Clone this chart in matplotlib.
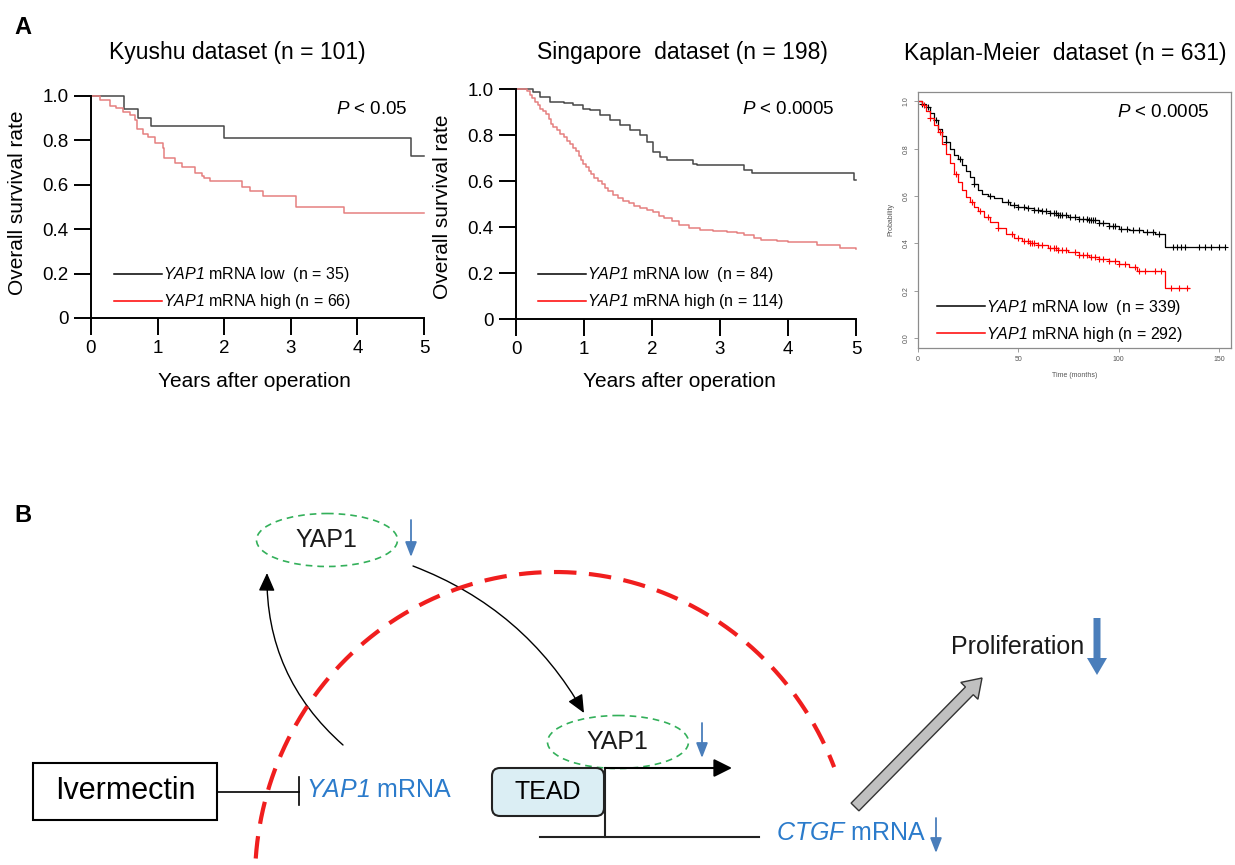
import numpy as np
import matplotlib
matplotlib.use('Agg')
import matplotlib.pyplot as plt
from matplotlib.patches import Ellipse, Rectangle, FancyBboxPatch, FancyArrowPatch, FancyArrow
from matplotlib.lines import Line2D

plt.rcParams['font.family'] = ['Liberation Sans', 'DejaVu Sans']
plt.rcParams['mathtext.fontset'] = 'custom'
plt.rcParams['mathtext.rm'] = 'Liberation Sans'
plt.rcParams['mathtext.it'] = 'Liberation Sans:italic'
# italic digits too (mathtext keeps digits upright in \it)
plt.rcParams['mathtext.sf'] = 'Liberation Sans:italic'

# ---- survival data (time, survival after step) ----
# Kyushu dataset, years
kyu_low_t = [0, 0.5, 0.7, 0.9, 2.0, 4.8, 5.0]
kyu_low_s = [1.0, 0.94, 0.90, 0.865, 0.81, 0.73, 0.73]
kyu_high_t = [0, 0.13, 0.28, 0.38, 0.48, 0.58, 0.66, 0.69, 0.78, 0.86, 0.96, 1.08, 1.10,
              1.26, 1.36, 1.56, 1.66, 1.69, 1.78, 2.26, 2.38, 2.58, 3.08, 3.80, 5.0]
kyu_high_s = [1.0, 0.98, 0.955, 0.945, 0.93, 0.915, 0.89, 0.85, 0.83, 0.815, 0.79, 0.765, 0.72,
              0.70, 0.68, 0.655, 0.64, 0.63, 0.615, 0.59, 0.57, 0.55, 0.50, 0.475, 0.475]

# Singapore dataset, years
sin_low_t = [0, 0.25, 0.35, 0.5, 0.7, 0.84, 0.99, 1.09, 1.24, 1.38, 1.53, 1.68, 1.82, 1.92,
             2.02, 2.12, 2.22, 2.61, 2.66, 3.35, 3.47, 4.97, 5.0]
sin_low_s = [1.0, 0.987, 0.965, 0.945, 0.94, 0.93, 0.915, 0.907, 0.886, 0.867, 0.842, 0.82, 0.80,
             0.77, 0.727, 0.705, 0.69, 0.676, 0.669, 0.647, 0.633, 0.605, 0.605]
sin_high_t = [0, 0.16, 0.20, 0.23, 0.28, 0.32, 0.36, 0.40, 0.44, 0.48, 0.52, 0.55, 0.60, 0.65,
              0.70, 0.75, 0.80, 0.84, 0.88, 0.92, 0.96, 0.99, 1.03, 1.07, 1.10, 1.15, 1.20,
              1.26, 1.31, 1.36, 1.42, 1.50, 1.58, 1.66, 1.74, 1.82, 1.92, 2.02, 2.10, 2.18,
              2.30, 2.40, 2.55, 2.70, 2.90, 3.10, 3.25, 3.35, 3.50, 3.60, 3.84, 4.00, 4.43,
              4.77, 5.0]
sin_high_s = [1.0, 0.99, 0.975, 0.96, 0.945, 0.93, 0.915, 0.905, 0.89, 0.87, 0.85, 0.835, 0.82,
              0.805, 0.79, 0.775, 0.76, 0.745, 0.73, 0.71, 0.69, 0.675, 0.66, 0.645, 0.63,
              0.615, 0.60, 0.585, 0.57, 0.555, 0.54, 0.527, 0.515, 0.503, 0.492, 0.481,
              0.472, 0.465, 0.45, 0.437, 0.425, 0.41, 0.397, 0.387, 0.383, 0.378, 0.372,
              0.365, 0.352, 0.345, 0.337, 0.333, 0.322, 0.308, 0.305]

# Kaplan-Meier plotter dataset, months
kmp_low_t = [0, 2, 4, 6, 8, 10, 12, 14, 16, 18, 20, 22, 24, 26, 28, 30, 32, 35, 38, 42, 46, 50,
             54, 58, 62, 66, 70, 75, 80, 85, 90, 95, 100, 105, 112, 118, 123, 153]
kmp_low_s = [1.0, 0.99, 0.975, 0.95, 0.92, 0.885, 0.855, 0.83, 0.80, 0.775, 0.755, 0.73, 0.705,
             0.68, 0.65, 0.625, 0.61, 0.60, 0.59, 0.575, 0.562, 0.555, 0.548, 0.542, 0.535,
             0.528, 0.52, 0.512, 0.505, 0.498, 0.488, 0.475, 0.462, 0.456, 0.449, 0.44, 0.386,
             0.386]
kmp_high_t = [0, 2, 4, 6, 8, 10, 12, 14, 16, 18, 20, 22, 24, 26, 28, 30, 33, 36, 40, 44, 48, 52,
              56, 60, 65, 70, 75, 80, 85, 90, 95, 100, 105, 109, 123, 135]
kmp_high_s = [1.0, 0.985, 0.96, 0.93, 0.90, 0.87, 0.82, 0.78, 0.74, 0.695, 0.66, 0.625, 0.595,
              0.575, 0.555, 0.535, 0.51, 0.49, 0.465, 0.44, 0.425, 0.41, 0.40, 0.392, 0.382,
              0.373, 0.362, 0.35, 0.342, 0.335, 0.325, 0.315, 0.30, 0.282, 0.21, 0.21]
kmp_low_cens = [2, 5, 9, 14, 21, 28, 36, 45, 48, 50, 53, 55, 58, 60, 62, 64, 66, 68, 69, 70, 71,
                72, 74, 76, 78, 80, 82, 84, 85, 86, 87, 88, 90, 92, 95, 97, 98, 101, 104, 107,
                110, 114, 117, 120, 127, 129, 131, 133, 140, 143, 146, 150, 153]
kmp_high_cens = [3, 6, 11, 19, 27, 31, 35, 40, 47, 50, 53, 55, 56, 57, 58, 60, 62, 66, 68, 69,
                 70, 72, 74, 78, 80, 82, 84, 86, 88, 90, 92, 95, 98, 100, 103, 108, 110, 113,
                 118, 121, 126, 130, 134]

W, H = 1235, 865
fig = plt.figure(figsize=(W / 100, H / 100), dpi=100)

YAP1 = r'$\mathsf{YAP1}$'


def px_axes(l, t, r, b):
    return fig.add_axes([l / W, 1 - b / H, (r - l) / W, (b - t) / H])


# ---------------- diagram (panel B), pixel coordinates ----------------
ax_d = fig.add_axes([0, 0, 1, 1])
ax_d.set_xlim(0, W)
ax_d.set_ylim(H, 0)
ax_d.axis('off')

blue_txt = '#2b7bcb'
blue_arr = '#4a7ebb'
green = '#33b05a'

ax_d.text(23, 27, 'A', fontsize=17, fontweight='bold', ha='center', va='center')
ax_d.text(23, 516, 'B', fontsize=17, fontweight='bold', ha='center', va='center')

# YAP1 ellipses
for cx, cy in [(327, 540), (618, 742)]:
    ax_d.add_patch(Ellipse((cx, cy), 141, 53, fill=False, ec=green, lw=1.2,
                           ls=(0, (4, 3))))
    ax_d.text(cx - 1, cy, 'YAP1', fontsize=18, ha='center', va='center', color='#1a1a1a')

# small blue down arrows
for x, y0, y1 in [(411, 520, 557), (702, 723, 758), (936, 818, 853)]:
    ax_d.annotate('', xy=(x, y1), xytext=(x, y0),
                  arrowprops=dict(arrowstyle='-|>,head_length=0.9,head_width=0.35',
                                  color=blue_arr, lw=1.3, mutation_scale=10,
                                  shrinkA=0, shrinkB=0))

# curved black arrows
ax_d.add_patch(FancyArrowPatch((343, 745), (267, 573), connectionstyle='arc3,rad=-0.23',
                               arrowstyle='-|>,head_length=1.0,head_width=0.45',
                               mutation_scale=11, lw=1, color='k', shrinkA=0, shrinkB=0))
ax_d.add_patch(FancyArrowPatch((413, 566), (584, 713), connectionstyle='arc3,rad=-0.18',
                               arrowstyle='-|>,head_length=1.0,head_width=0.45',
                               mutation_scale=11, lw=1, color='k', shrinkA=0, shrinkB=0))

# Ivermectin box and inhibition
ax_d.add_patch(Rectangle((33, 763), 184, 57, fill=False, ec='k', lw=1.5))
ax_d.text(125, 791, 'Ivermectin', fontsize=22, ha='center', va='center')
ax_d.plot([217, 299], [792, 792], color='k', lw=1.2)
ax_d.plot([299, 299], [777, 805], color='k', lw=1.2)
ax_d.text(306, 790, YAP1 + ' mRNA', fontsize=18, color=blue_txt, ha='left', va='center')

# TEAD and transcription
ax_d.add_patch(FancyBboxPatch((492, 768), 112, 48, boxstyle='round,pad=0,rounding_size=8',
                              fc='#dbeef4', ec='#222222', lw=1.5, zorder=3))
ax_d.text(548, 792, 'TEAD', fontsize=18, ha='center', va='center', zorder=4)
ax_d.plot([540, 759], [837, 837], color='#222222', lw=1.5)
ax_d.plot([605, 605], [837, 768], color='#222222', lw=1.5)
ax_d.annotate('', xy=(732, 768), xytext=(605, 768),
              arrowprops=dict(arrowstyle='-|>,head_length=1.0,head_width=0.5',
                              color='k', lw=1.5, mutation_scale=11, shrinkA=0, shrinkB=0))
ax_d.text(776, 833, r'$\mathsf{CTGF}$ mRNA', fontsize=18, color=blue_txt, ha='left',
          va='center')

# proliferation
ax_d.add_patch(FancyArrow(855, 807, 127, -129, width=11, head_width=24, head_length=18,
                          length_includes_head=True, fc='#c0c0c0', ec='#333333', lw=1))
ax_d.text(951, 647, 'Proliferation', fontsize=18, ha='left', va='center', color='#1a1a1a')
ax_d.add_patch(FancyArrow(1097, 618, 0, 57, width=7, head_width=20, head_length=17,
                          length_includes_head=True, fc=blue_arr, ec='none'))

# red dashed membrane arc
th = np.radians(np.linspace(176, 21.5, 300))
ax_d.plot(555 + 300 * np.cos(th), 880 - 308 * np.sin(th), color='#f01e1e', lw=3.0,
          ls=(0, (5.4, 3)), dash_capstyle='butt', zorder=5)


# ---------------- panel A ----------------
def km_axes(ax, t_low, s_low, t_high, s_high, title, tpos, pval, ppos, leg, legpos,
            ylab_pos, xlab_pos):
    ax.set_facecolor('none')
    ax.step(t_low, s_low, where='post', color='#474747', lw=1.1, clip_on=False)
    ax.step(t_high, s_high, where='post', color='#e58080', lw=1.1, clip_on=False)
    ax.set_xlim(0, 5)
    ax.set_ylim(0, 1)
    for s in ['top', 'right']:
        ax.spines[s].set_visible(False)
    for s in ['left', 'bottom']:
        ax.spines[s].set_linewidth(1.4)
    ax.set_xticks(range(6))
    ax.set_yticks([0, 0.2, 0.4, 0.6, 0.8, 1.0])
    ax.set_yticklabels(['0', '0.2', '0.4', '0.6', '0.8', '1.0'])
    ax.tick_params(direction='out', length=12, width=1.4, labelsize=13.5, pad=4)
    ax.set_ylabel('Overall survival rate', fontsize=15)
    ax.set_xlabel('Years after operation', fontsize=15)
    ax.yaxis.set_label_coords(*ylab_pos)
    ax.xaxis.set_label_coords(*xlab_pos)
    ax.text(tpos[0], tpos[1], title, transform=ax.transAxes, fontsize=16.5,
            ha='center', va='center')
    ax.text(ppos[0], ppos[1], pval, transform=ax.transAxes, fontsize=13.5,
            ha='right', va='center')
    handles = [Line2D([], [], color='k', lw=1.1), Line2D([], [], color='#ff0000', lw=1.1)]
    ax.legend(handles, leg, loc='center left', bbox_to_anchor=legpos, frameon=False,
              fontsize=11.5, handlelength=3.0, handletextpad=0.05, labelspacing=0.5,
              borderpad=0, borderaxespad=0)


ax1 = px_axes(91, 96, 424, 318)
km_axes(ax1, kyu_low_t, kyu_low_s, kyu_high_t, kyu_high_s, 'Kyushu dataset (n = 101)',
        (0.44, 1.194), r'$\it{P}$ < 0.05', (0.95, 0.94),
        [YAP1 + ' mRNA low  (n = 35)', YAP1 + ' mRNA high (n = 66)'],
        (0.069, 0.133), (-0.192, 0.52), (0.49, -0.243))

ax2 = px_axes(516, 89, 856, 319)
km_axes(ax2, sin_low_t, sin_low_s, sin_high_t, sin_high_s, 'Singapore  dataset (n = 198)',
        (0.49, 1.16), r'$\it{P}$ < 0.0005', (0.938, 0.909),
        [YAP1 + ' mRNA low  (n = 84)', YAP1 + ' mRNA high (n = 114)'],
        (0.065, 0.133), (-0.188, 0.487), (0.48, -0.23))

# Kaplan-Meier plotter panel
ax3 = px_axes(918, 92, 1231, 348)
ax3.set_facecolor('none')
for t, s, cens, col in [(kmp_low_t, kmp_low_s, kmp_low_cens, 'black'),
                        (kmp_high_t, kmp_high_s, kmp_high_cens, '#ff0000')]:
    t = np.array(t)
    s = np.array(s)
    ax3.step(t, s, where='post', color=col, lw=0.9)
    idx = np.searchsorted(t, cens, side='right') - 1
    ax3.plot(cens, s[idx], ls='none', marker='+', ms=4.5, mew=0.8, color=col)
ax3.set_xlim(0, 156)
ax3.set_ylim(-0.042, 1.04)
for sp in ax3.spines.values():
    sp.set_color('#8c8c8c')
    sp.set_linewidth(0.9)
ax3.set_xticks([0, 50, 100, 150])
ax3.set_yticks([0, 0.2, 0.4, 0.6, 0.8, 1.0])
ax3.set_yticklabels(['0.0', '0.2', '0.4', '0.6', '0.8', '1.0'], rotation=90, va='center')
ax3.tick_params(length=3, width=0.6, color='#8c8c8c', labelsize=5, labelcolor='#555555', pad=3)
ax3.set_xlabel('Time (months)', fontsize=5, color='#555555', labelpad=6)
ax3.set_ylabel('Probability', fontsize=5, color='#555555', labelpad=6)
ax3.text(0.47, 1.152, 'Kaplan-Meier  dataset (n = 631)', transform=ax3.transAxes,
         fontsize=16.5, ha='center', va='center')
ax3.text(0.933, 0.918, r'$\it{P}$ < 0.0005', transform=ax3.transAxes, fontsize=13.5,
         ha='right', va='center')
ax3.legend([Line2D([], [], color='k', lw=1.1), Line2D([], [], color='#ff0000', lw=1.1)],
           [YAP1 + ' mRNA low  (n = 339)', YAP1 + ' mRNA high (n = 292)'],
           loc='center left', bbox_to_anchor=(0.061, 0.107), frameon=False, fontsize=11.5,
           handlelength=3.0, handletextpad=0.05, labelspacing=0.5, borderpad=0,
           borderaxespad=0)

fig.savefig('out.png', dpi=100)
